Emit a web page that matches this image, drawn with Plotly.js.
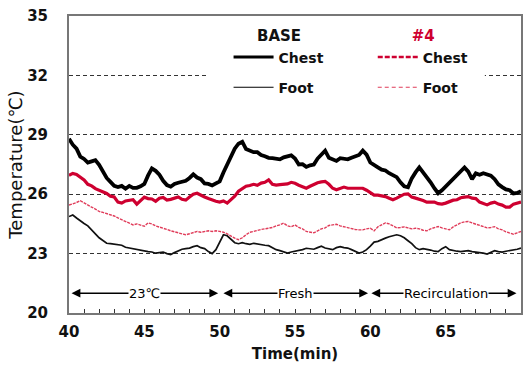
<!DOCTYPE html>
<html>
<head>
<meta charset="utf-8">
<script src="https://cdn.plot.ly/plotly-3.0.1.min.js"></script>
<style>html,body{margin:0;padding:0;background:#fff;}#chart{width:531px;height:367px;}</style>
</head>
<body>
<div id="chart"></div>
<script>
const timeMin = [
 40,40.25,40.5,40.75,41,41.25,41.5,41.75,42,42.25,42.5,42.75,43,43.25,43.5,43.75,44,44.25,44.5,44.75,
 45,45.25,45.5,45.75,46,46.25,46.5,46.75,47,47.25,47.5,47.75,48,48.25,48.5,48.75,49,49.25,49.5,49.75,
 50,50.25,50.5,50.75,51,51.25,51.5,51.75,52,52.25,52.5,52.75,53,53.25,53.5,53.75,54,54.25,54.5,54.75,
 55,55.25,55.5,55.75,56,56.25,56.5,56.75,57,57.25,57.5,57.75,58,58.25,58.5,58.75,59,59.25,59.5,59.75,
 60,60.25,60.5,60.75,61,61.25,61.5,61.75,62,62.25,62.5,62.75,63,63.25,63.5,63.75,64,64.25,64.5,64.75,
 65,65.25,65.5,65.75,66,66.25,66.5,66.75,67,67.25,67.5,67.75,68,68.25,68.5,68.75,69,69.25,69.5,69.75,
 70];

const baseChest = [
 28.8,28.5,28.3,27.9,27.78,27.6,27.66,27.72,27.48,27.12,26.82,26.62,26.42,26.36,26.42,26.28,26.42,26.32,26.32,26.4,
 26.52,26.95,27.3,27.18,26.98,26.68,26.46,26.38,26.52,26.58,26.64,26.68,26.82,27.0,26.84,26.76,26.54,26.52,26.44,26.52,
 26.65,27.1,27.5,27.95,28.3,28.55,28.65,28.28,28.22,28.12,28.12,27.98,27.92,27.84,27.82,27.78,27.76,27.86,27.9,27.96,
 27.8,27.5,27.52,27.38,27.46,27.5,27.8,28.0,28.2,27.84,27.76,27.68,27.82,27.78,27.76,27.84,27.92,27.98,28.2,28.0,
 27.6,27.45,27.36,27.24,27.2,27.06,26.94,26.86,26.6,26.4,26.35,26.8,27.1,27.35,27.1,26.86,26.6,26.3,26.05,26.2,
 26.4,26.6,26.76,27.0,27.2,27.35,27.14,26.76,27.05,26.98,27.06,27.0,26.94,26.76,26.5,26.36,26.24,26.2,26.04,26.06,
 26.15];

const s4Chest = [
 26.95,27.05,27.0,26.88,26.72,26.5,26.42,26.28,26.2,26.16,26.04,25.9,25.86,25.6,25.55,25.66,25.7,25.72,25.5,25.65,
 25.85,25.78,25.76,25.64,25.8,25.84,25.7,25.74,25.8,25.86,25.74,25.7,25.86,26.0,26.05,25.94,25.86,25.78,25.7,25.64,
 25.6,25.66,25.55,25.7,25.9,26.15,26.3,26.4,26.44,26.5,26.45,26.56,26.6,26.72,26.5,26.46,26.48,26.5,26.52,26.6,
 26.55,26.45,26.38,26.3,26.4,26.5,26.58,26.62,26.65,26.5,26.3,26.22,26.3,26.36,26.3,26.3,26.28,26.32,26.3,26.2,
 26.05,25.95,25.95,25.92,25.88,25.8,25.72,25.8,25.9,26.0,26.02,25.85,25.8,25.75,25.68,25.6,25.62,25.6,25.52,25.5,
 25.55,25.62,25.7,25.72,25.82,25.85,25.88,25.8,25.78,25.6,25.52,25.46,25.55,25.6,25.5,25.45,25.35,25.35,25.5,25.55,
 25.6];

const s4Foot = [
 25.45,25.5,25.58,25.67,25.55,25.45,25.35,25.25,25.13,25.08,25.02,24.95,24.9,24.8,24.72,24.62,24.55,24.45,24.5,24.42,
 24.38,24.55,24.5,24.4,24.35,24.28,24.22,24.15,24.1,24.02,23.98,23.95,24.0,24.05,24.12,24.08,24.1,24.15,24.12,24.15,
 24.12,24.08,24.0,23.88,23.78,23.7,23.8,23.95,24.08,24.12,24.18,24.22,24.25,24.28,24.32,24.4,24.45,24.54,24.4,24.35,
 24.45,24.32,24.25,24.12,24.1,24.05,24.15,24.25,24.3,24.42,24.45,24.48,24.4,24.35,24.3,24.28,24.22,24.2,24.2,24.25,
 24.28,24.15,24.35,24.45,24.55,24.5,24.42,24.3,24.32,24.35,24.3,24.25,24.28,24.25,24.18,24.15,24.25,24.3,24.37,24.3,
 24.25,24.2,24.35,24.45,24.55,24.6,24.62,24.55,24.48,24.42,24.35,24.3,24.32,24.36,24.25,24.2,24.1,24.03,23.98,24.05,
 24.12];

const baseFoot = [
 24.87,24.95,24.8,24.65,24.52,24.4,24.18,24.0,23.8,23.65,23.52,23.5,23.47,23.45,23.42,23.32,23.28,23.24,23.22,23.18,
 23.15,23.1,23.08,23.02,23.05,23.08,23.0,22.95,23.05,23.15,23.22,23.25,23.28,23.35,23.4,23.3,23.25,23.1,23.0,23.2,
 23.6,23.95,23.9,23.7,23.55,23.5,23.55,23.5,23.47,23.52,23.48,23.45,23.42,23.4,23.3,23.2,23.15,23.1,23.03,23.08,
 23.12,23.14,23.2,23.27,23.25,23.22,23.3,23.37,23.28,23.22,23.2,23.3,23.35,23.3,23.28,23.2,23.12,23.03,23.08,23.2,
 23.38,23.58,23.62,23.72,23.78,23.85,23.9,23.95,23.9,23.8,23.65,23.5,23.3,23.2,23.25,23.22,23.18,23.12,23.1,23.25,
 23.35,23.2,23.15,23.12,23.1,23.14,23.15,23.1,23.08,23.04,23.02,22.98,23.05,23.15,23.1,23.08,23.12,23.15,23.18,23.22,
 23.28];

const phaseLabels = ['23℃', 'Fresh', 'Recirculation'];
const phaseCenters = [45, 55, 65];
const phaseStarts = [40.07, 50.15, 59.97];
const phaseEnds = [49.9, 59.85, 69.7];
const phaseY = 21;

const RED = 'rgb(206,0,48)';
const PINK = 'rgb(224,60,90)';
const FONT = 'DejaVu Sans';

const traces = [
  {x: timeMin, y: s4Foot, mode: 'lines', line: {color: PINK, width: 1.4, dash: '3px,1px'}, showlegend: false, hoverinfo: 'skip'},
  {x: timeMin, y: baseFoot, mode: 'lines', line: {color: '#111', width: 1.7}, showlegend: false, hoverinfo: 'skip'},
  {x: timeMin, y: s4Chest, mode: 'lines', line: {color: RED, width: 3.2}, showlegend: false, hoverinfo: 'skip'},
  {x: timeMin, y: baseChest, mode: 'lines', line: {color: '#000', width: 3.8}, showlegend: false, hoverinfo: 'skip'},
  // legend-only entries
  {x: [null], y: [null], mode: 'lines', name: 'Chest', line: {color: '#000', width: 3}, legend: 'legend', legendgroup: 'a'},
  {x: [null], y: [null], mode: 'lines', name: 'Foot', line: {color: '#000', width: 1.2}, legend: 'legend', legendgroup: 'b'},
  {x: [null], y: [null], mode: 'lines', name: 'Chest', line: {color: RED, width: 2.5, dash: '5px,2px'}, legend: 'legend2', legendgroup: 'c'},
  {x: [null], y: [null], mode: 'lines', name: 'Foot', line: {color: PINK, width: 1.2, dash: '4px,3px'}, legend: 'legend2', legendgroup: 'd'}
];

const annotations = [];
for (let i = 0; i < phaseLabels.length; i++) {
  annotations.push({
    x: phaseEnds[i], y: phaseY, ax: phaseStarts[i], ay: phaseY,
    xref: 'x', yref: 'y', axref: 'x', ayref: 'y',
    text: '', showarrow: true, arrowside: 'end+start', arrowhead: 2, startarrowhead: 2,
    arrowsize: 1.1, startarrowsize: 1.1, arrowwidth: 1.6, arrowcolor: '#000', standoff: 0, startstandoff: 0
  });
  annotations.push({
    x: phaseCenters[i], y: phaseY, xref: 'x', yref: 'y', text: phaseLabels[i], showarrow: false,
    bgcolor: '#fff', borderpad: 0, font: {family: FONT, size: 13, color: '#000'}
  });
}

const layout = {
  width: 531, height: 367,
  margin: {l: 69, r: 10, t: 16, b: 54},
  paper_bgcolor: '#fff', plot_bgcolor: '#fff',
  xaxis: {
    range: [40, 70], tick0: 40, dtick: 5, ticks: 'inside', ticklen: 4, tickcolor: '#333', tickwidth: 1,
    minor: {dtick: 1, ticks: 'inside', ticklen: 4, tickcolor: '#333', tickwidth: 1, showgrid: false},
    showline: true, linecolor: '#777', linewidth: 2, mirror: true, showgrid: false, zeroline: false,
    ticklabelstandoff: 4, automargin: false,
    tickfont: {family: FONT, size: 15, weight: 'bold', color: '#111'},
    title: {text: 'Time(min)', font: {family: FONT, size: 15, weight: 'bold', color: '#111'}, standoff: 8}
  },
  yaxis: {
    range: [20, 35], tick0: 20, dtick: 3, ticks: '', showline: true, linecolor: '#777', linewidth: 2, mirror: true,
    showgrid: true, gridcolor: '#333', gridwidth: 1, griddash: '4px,3px', zeroline: false,
    ticklabelstandoff: 16, automargin: 'left',
    tickfont: {family: FONT, size: 15, weight: 'bold', color: '#111'},
    title: {text: 'Temperature(℃)', font: {family: FONT, size: 18, color: '#111'}, standoff: 0}
  },
  shapes: [
    {type: 'rect', xref: 'paper', yref: 'paper', x0: 0.305, x1: 0.92, y0: 0.72, y1: 0.985,
     fillcolor: '#fff', line: {width: 0}, layer: 'above'}
  ],
  legend: {
    x: 0.353, y: 0.98, xanchor: 'left', yanchor: 'top', bgcolor: 'rgba(0,0,0,0)',
    title: {text: 'BASE', side: 'top center', font: {family: FONT, size: 15, weight: 'bold', color: '#111'}},
    font: {family: FONT, size: 14, weight: 'bold', color: '#111'},
    traceorder: 'grouped', tracegroupgap: 9, itemwidth: 40
  },
  legend2: {
    x: 0.672, y: 0.98, xanchor: 'left', yanchor: 'top', bgcolor: 'rgba(0,0,0,0)',
    title: {text: '#4', side: 'top center', font: {family: FONT, size: 15, weight: 'bold', color: RED}},
    font: {family: FONT, size: 14, weight: 'bold', color: '#111'},
    traceorder: 'grouped', tracegroupgap: 9, itemwidth: 40
  },
  annotations: annotations
};

Plotly.newPlot('chart', traces, layout, {staticPlot: true, displayModeBar: false});
</script>
</body>
</html>
